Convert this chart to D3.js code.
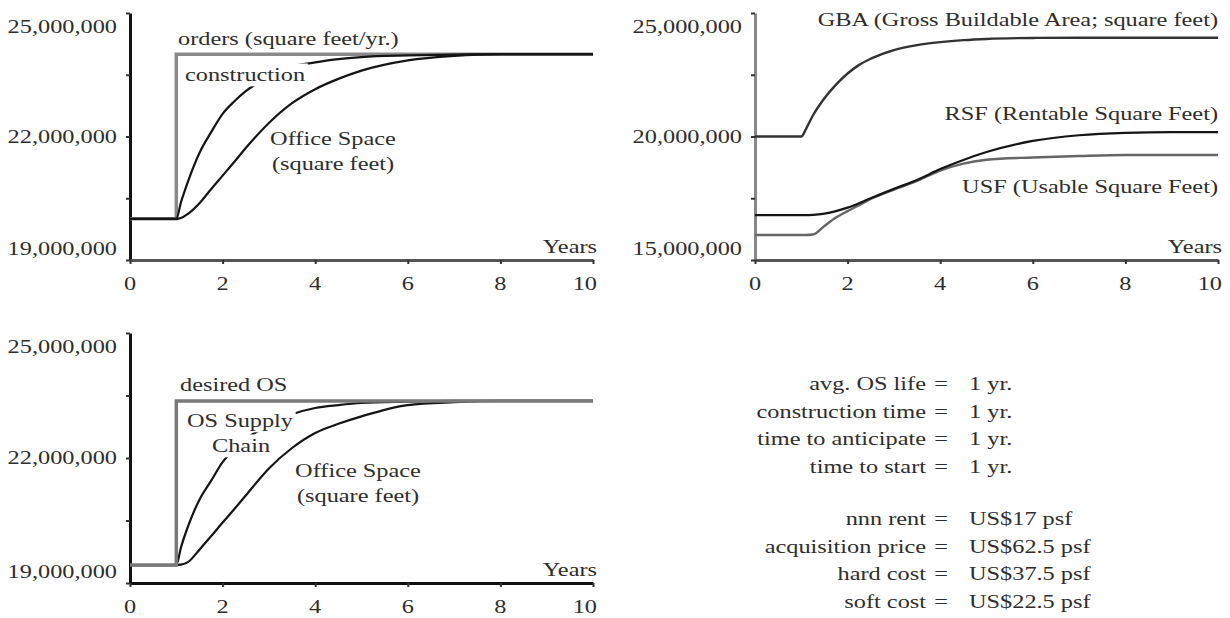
<!DOCTYPE html>
<html>
<head>
<meta charset="utf-8">
<style>
  body { margin: 0; background: #fff; }
  svg text { font-family: "Liberation Serif", "Times New Roman", serif; font-size: 19px; fill: #2e2e2e; }
</style>
<script src="https://d3js.org/d3.v7.min.js"></script>
</head>
<body>
<svg width="1230" height="618"></svg>
<script>
// time grid (years) shared by the smooth curves
var years = [0, 0.5, 1, 1.1, 1.25, 1.5, 1.75, 2, 2.25, 2.5, 3, 3.5, 4, 4.5, 5, 6, 7, 8, 9, 10];
var stepYears = [0, 1, 1, 10];
var xTicks = [0, 2, 4, 6, 8, 10];

// all values in millions of square feet
var orders       = [20, 20, 24, 24];
var construction = [20, 20, 20, 20.4, 20.9, 21.6, 22.1, 22.55, 22.85, 23.1, 23.45, 23.7, 23.8, 23.88, 23.93, 23.97, 23.99, 24, 24, 24];
var officeSpace1 = [20, 20, 20, 20.02, 20.12, 20.38, 20.72, 21.05, 21.38, 21.72, 22.33, 22.81, 23.15, 23.4, 23.6, 23.85, 23.96, 24, 24, 24];

var gba = [20, 20, 20, 20.3, 20.85, 21.55, 22.1, 22.55, 22.9, 23.15, 23.5, 23.7, 23.82, 23.9, 23.95, 23.99, 24, 24, 24, 24];
var rsf = [16.82, 16.82, 16.82, 16.82, 16.83, 16.88, 16.98, 17.12, 17.3, 17.5, 17.88, 18.24, 18.68, 19.05, 19.37, 19.82, 20.05, 20.15, 20.18, 20.18];
var usf = [16.01, 16.01, 16.01, 16.01, 16.03, 16.38, 16.72, 16.98, 17.22, 17.47, 17.85, 18.2, 18.62, 18.9, 19.06, 19.15, 19.21, 19.25, 19.25, 19.25];

var desiredOS    = [19.43, 19.43, 23.37, 23.37];
var supplyChain  = [19.43, 19.43, 19.43, 19.85, 20.35, 21.0, 21.45, 21.9, 22.2, 22.45, 22.8, 23.05, 23.2, 23.27, 23.32, 23.35, 23.37, 23.37, 23.37, 23.37];
var officeSpace3 = [19.43, 19.43, 19.43, 19.44, 19.5, 19.8, 20.12, 20.45, 20.77, 21.1, 21.75, 22.24, 22.6, 22.82, 23.0, 23.27, 23.34, 23.37, 23.37, 23.37];

var yTicksA = [19, 20.5, 22, 23.5, 25];
var yTicksB = [15, 17.5, 20, 22.5, 25];

var paramNames  = ["avg. OS life", "construction time", "time to anticipate", "time to start"];
var paramValues = ["1 yr.", "1 yr.", "1 yr.", "1 yr."];
var costNames   = ["nnn rent", "acquisition price", "hard cost", "soft cost"];
var costValues  = ["US$17 psf", "US$62.5 psf", "US$37.5 psf", "US$22.5 psf"];

var SX = 1.28; // the scanned type is wide, stretch the serif horizontally
var svg = d3.select("svg");
var fmt = d3.format(",");

function txt(parent, x, y, str, anchor, mask) {
  var g = parent.append("g").attr("transform", "translate(" + x + "," + y + ") scale(" + SX + ",1)");
  var t = g.append("text").attr("text-anchor", anchor || "start").text(str);
  if (mask) {
    var b = t.node().getBBox();
    g.insert("rect", "text").attr("x", b.x - 2).attr("y", b.y - 1)
      .attr("width", b.width + 4).attr("height", b.height + 2).attr("fill", "#fff");
  }
  return g;
}

function panel(p) {
  var g = svg.append("g");
  var x = d3.scaleLinear().domain([0, 10]).range([p.x0, p.x1]);
  var y = d3.scaleLinear().domain([p.yTicks[0], p.yTicks[4]]).range([p.yBot, p.yTop]);

  var yAx = g.append("g").attr("transform", "translate(" + p.x0 + ",0)")
    .call(d3.axisLeft(y).tickValues(p.yTicks).tickSize(4).tickSizeOuter(0).tickFormat(""));
  yAx.select(".domain").attr("stroke", p.yAxisColor).attr("stroke-width", 3);
  yAx.selectAll(".tick line").attr("stroke", "#333").attr("stroke-width", 2);

  var xAx = g.append("g").attr("transform", "translate(0," + p.yBot + ")")
    .call(d3.axisBottom(x).tickValues(xTicks).tickSize(4).tickSizeOuter(0).tickFormat(""));
  xAx.select(".domain").attr("stroke", p.xAxisColor).attr("stroke-width", 3);
  xAx.selectAll(".tick line").attr("stroke", "#333").attr("stroke-width", 2);

  // y labels: top, middle, bottom only
  var lx = p.x0 - 13;
  txt(g, lx, p.yTop + 20, fmt(p.yTicks[4] * 1e6), "end");
  txt(g, lx, y(p.yTicks[2]) + 6, fmt(p.yTicks[2] * 1e6), "end");
  txt(g, lx, p.yBot - 5, fmt(p.yTicks[0] * 1e6), "end");

  xTicks.forEach(function(v, i) {
    var last = i === xTicks.length - 1;
    txt(g, last ? p.x1 + 4 : x(v), p.yBot + 30, String(v), last ? "end" : "middle");
  });
  txt(g, p.x1 + 4, p.yBot - 7, "Years", "end");

  p.series.forEach(function(s) {
    var pts = s.t.map(function(t, i) { return [t, s.v[i]]; });
    var line = d3.line().x(function(d) { return x(d[0]); }).y(function(d) { return y(d[1]); })
      .curve(s.step ? d3.curveLinear : d3.curveMonotoneX);
    g.append("path").datum(pts).attr("d", line).attr("fill", "none")
      .attr("stroke", s.color).attr("stroke-width", s.w).attr("stroke-linejoin", "miter");
  });

  p.labels.forEach(function(l) { txt(g, l.x, l.y, l.s, l.a, l.mask); });
}

panel({
  x0: 130, x1: 593, yTop: 13, yBot: 260, yTicks: yTicksA,
  yAxisColor: "#111", xAxisColor: "#555",
  series: [
    { t: stepYears, v: orders, step: true, color: "#8a8a8a", w: 3.5 },
    { t: years, v: construction, color: "#151515", w: 2.2 },
    { t: years, v: officeSpace1, color: "#151515", w: 2.2 }
  ],
  labels: [
    { x: 178, y: 45, s: "orders (square feet/yr.)", a: "start" },
    { x: 185, y: 81, s: "construction", a: "start", mask: true },
    { x: 333, y: 145, s: "Office Space", a: "middle" },
    { x: 333, y: 170, s: "(square feet)", a: "middle" }
  ]
});

panel({
  x0: 755, x1: 1218, yTop: 13, yBot: 260, yTicks: yTicksB,
  yAxisColor: "#888", xAxisColor: "#555",
  series: [
    { t: years, v: gba, color: "#333", w: 2.4 },
    { t: years, v: usf, color: "#666", w: 2.4 },
    { t: years, v: rsf, color: "#151515", w: 2.2 }
  ],
  labels: [
    { x: 1218, y: 26, s: "GBA (Gross Buildable Area; square feet)", a: "end" },
    { x: 1218, y: 120, s: "RSF (Rentable Square Feet)", a: "end" },
    { x: 1218, y: 193, s: "USF (Usable Square Feet)", a: "end" }
  ]
});

panel({
  x0: 130, x1: 593, yTop: 333, yBot: 583, yTicks: yTicksA,
  yAxisColor: "#111", xAxisColor: "#111",
  series: [
    { t: years, v: supplyChain, color: "#151515", w: 2.2 },
    { t: years, v: officeSpace3, color: "#151515", w: 2.2 },
    { t: stepYears, v: desiredOS, step: true, color: "#7a7a7a", w: 3.5 }
  ],
  labels: [
    { x: 180, y: 391, s: "desired OS", a: "start" },
    { x: 240, y: 427, s: "OS Supply", a: "middle", mask: true },
    { x: 241, y: 452, s: "Chain", a: "middle", mask: true },
    { x: 358, y: 477, s: "Office Space", a: "middle" },
    { x: 358, y: 502, s: "(square feet)", a: "middle" }
  ]
});

// parameter block
var pb = svg.append("g");
function block(names, values, y0) {
  names.forEach(function(n, i) {
    var yy = y0 + i * 27.7;
    txt(pb, 926, yy, n, "end");
    txt(pb, 941, yy, "=", "middle");
    txt(pb, 969, yy, values[i], "start");
  });
}
block(paramNames, paramValues, 390);
block(costNames, costValues, 525);
</script>
</body>
</html>
